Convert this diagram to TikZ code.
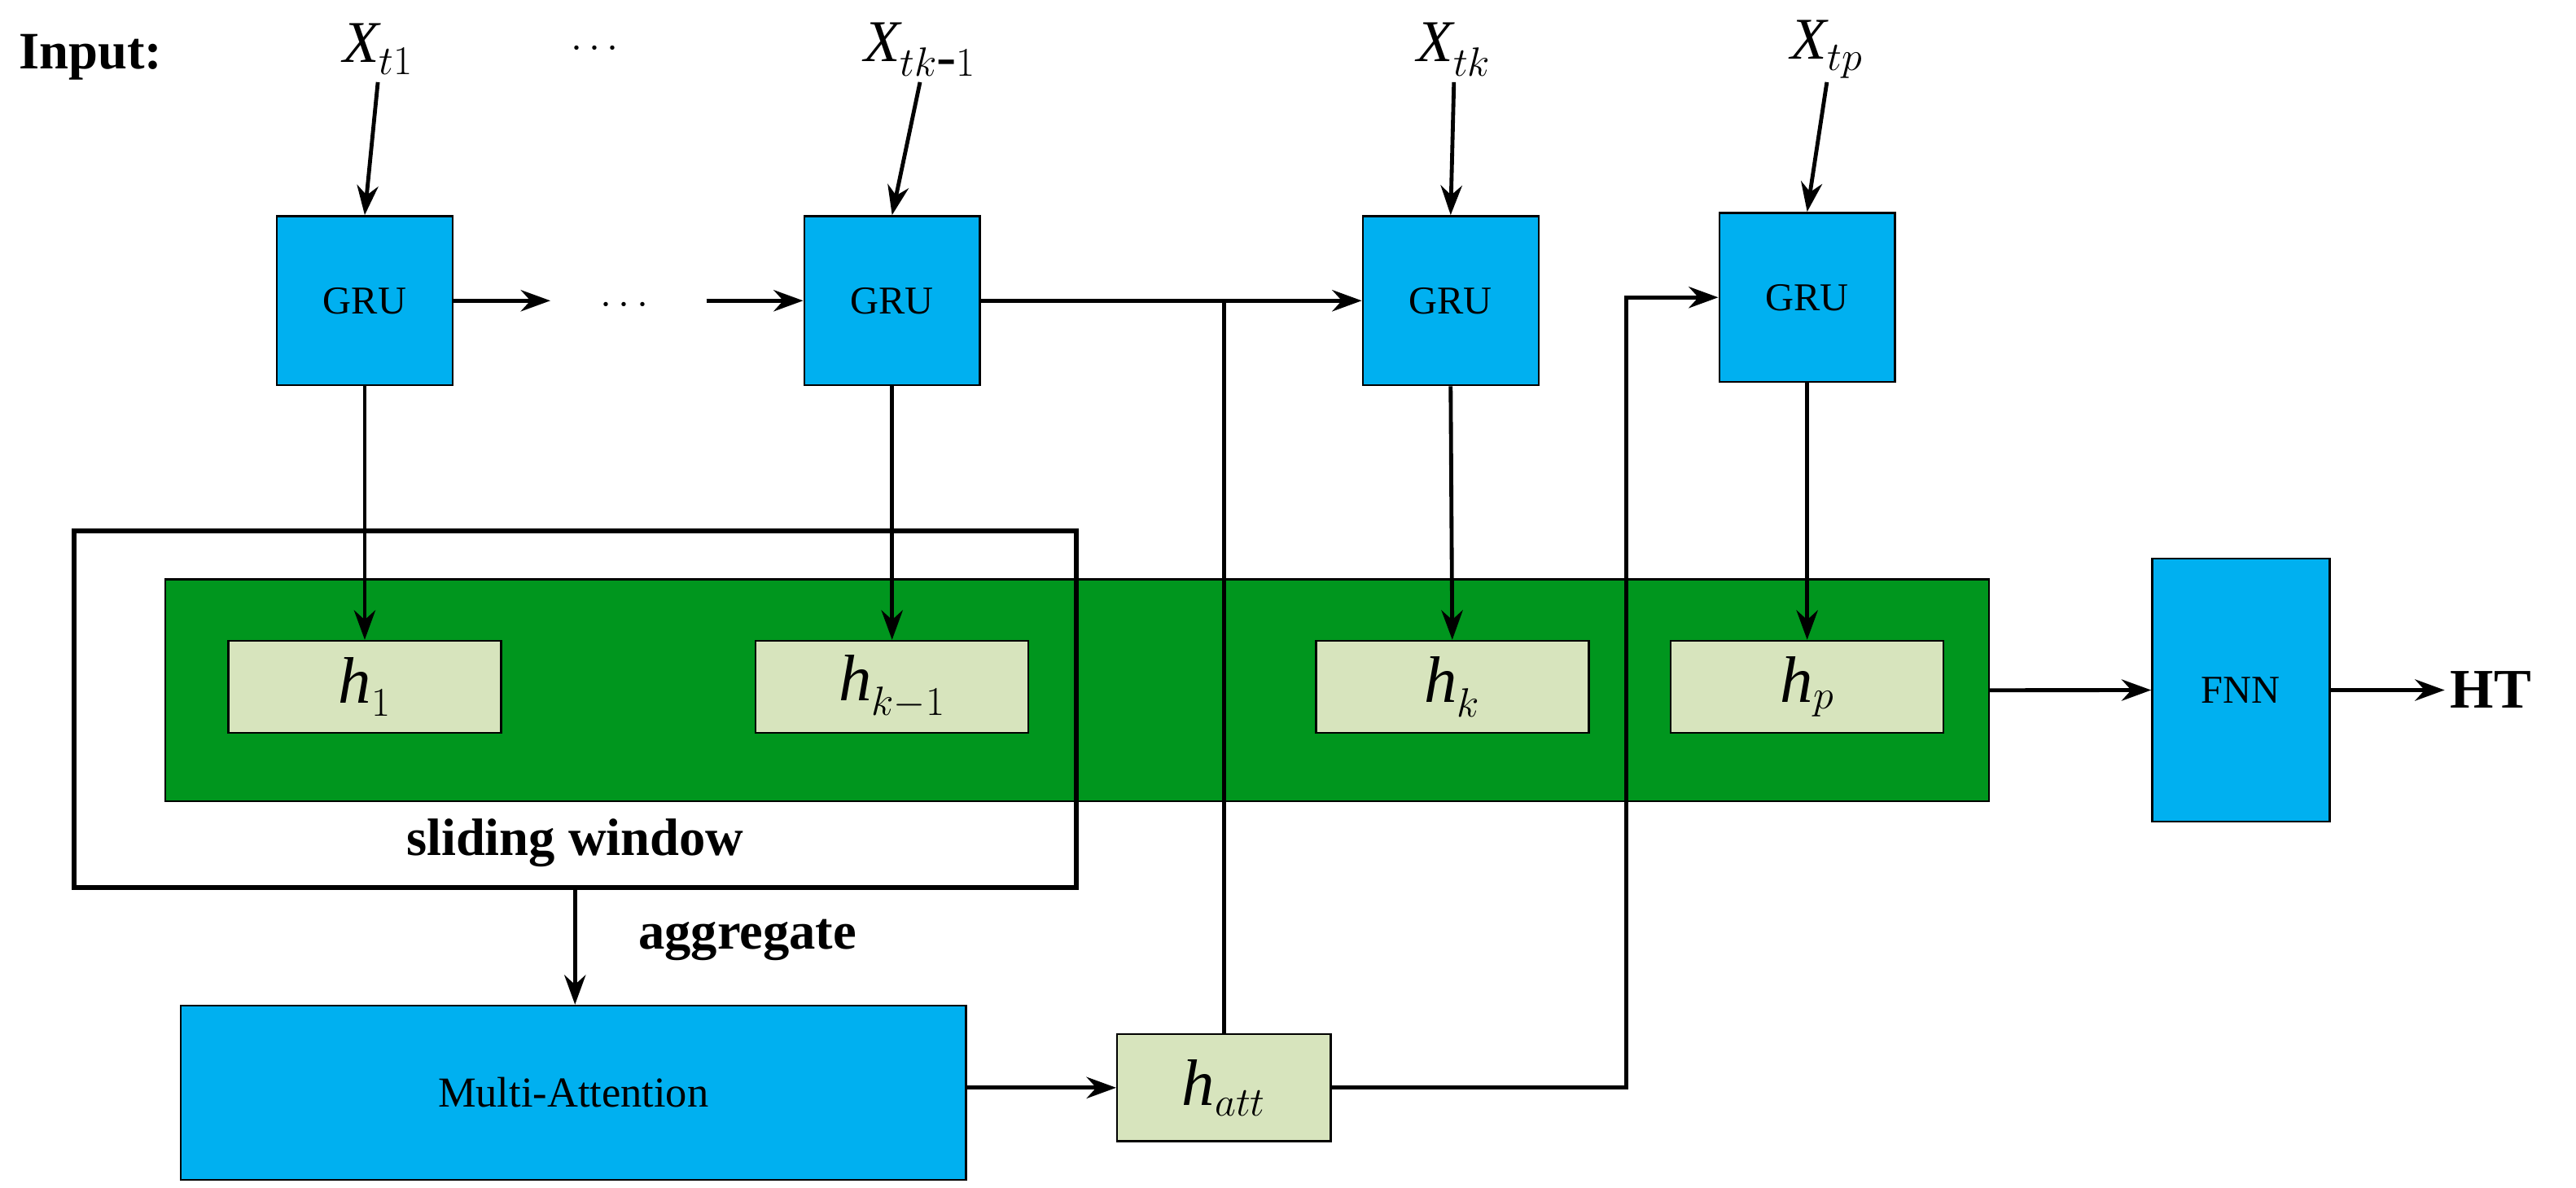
\documentclass[tikz,border=0pt]{standalone}
\usepackage{fontspec}
\setmainfont{Liberation Serif}
\usetikzlibrary{positioning, arrows.meta}
\definecolor{grucyan}{RGB}{0,176,240}
\definecolor{bandgreen}{RGB}{0,150,30}
\definecolor{hlight}{RGB}{215,228,189}

\tikzset{
  grubox/.style={draw, line width=1.2pt, fill=grucyan, minimum width=107pt, minimum height=103pt, font=\fontsize{24}{28}\selectfont},
  hbox/.style={draw, line width=1.2pt, fill=hlight, minimum width=166pt, minimum height=56pt, font=\fontsize{40}{44}\selectfont\itshape},
  arr/.style={line width=2.4pt, -{Stealth[length=18pt,width=13pt]}},
  ln/.style={line width=2.4pt},
  xin/.style={font=\fontsize{36}{40}\selectfont\itshape}
}

\begin{document}
\begin{tikzpicture}[x=1pt,y=-1pt]
\useasboundingbox (0,0) rectangle (1568,723);
% band and window
\node (band) [draw, line width=1.2pt, fill=bandgreen, minimum width=1110pt, minimum height=135pt, anchor=north west] at (100,352) {};
\draw[line width=3pt] (45,323) rectangle (655,540);
\node (win) [font=\fontsize{32}{36}\selectfont\bfseries] at (350,513) {sliding window};
\coordinate (winb) at (350,540);
% inputs
\node [font=\fontsize{32}{36}\selectfont\bfseries, anchor=west] at (8,35) {Input:};
\node (x1) [xin] at (230,30) {X$_{t1}$};
\node [font=\fontsize{36}{40}\selectfont\bfseries] at (362,30) {$\cdots$};
\node (x2) [xin] at (560,30) {X$_{tk\mbox{-}1}$};
\node (x3) [xin] at (885,30) {X$_{tk}$};
\node (x4) [xin] at (1112,30) {X$_{tp}$};
% GRUs
\node (g1) [grubox] at (222,183) {GRU};
\node (g2) [grubox] at (543,183) {GRU};
\node (g3) [grubox] at (883,183) {GRU};
\node (g4) [grubox] at (1100,181) {GRU};
% hidden states
\node (h1) [hbox] at (222,418) {h$_{1}$};
\node (h2) [hbox] at (543,418) {h$_{k-1}$};
\node (h3) [hbox] at (884,418) {h$_{k}$};
\node (h4) [hbox] at (1100,418) {h$_{p}$};
% bottom
\node (ma) [draw, line width=1.2pt, fill=grucyan, minimum width=478pt, minimum height=106pt, font=\fontsize{26}{30}\selectfont] at (349,665) {Multi-Attention};
\node (hatt) [hbox, minimum width=130pt, minimum height=65pt] at (745,662) {h$_{att}$};
\node (agg) [font=\fontsize{32}{36}\selectfont\bfseries] at (455,572) {aggregate};
\node (fnn) [grubox, minimum width=108pt, minimum height=160pt] at (1364,420) {FNN};
\node (ht) [font=\fontsize{34}{38}\selectfont\bfseries, anchor=west] at (1488,420) {HT};
\node (dots) [font=\fontsize{28}{32}\selectfont] at (380,186) {$\cdots$};
% connectors
\foreach \i in {1,...,4} {
  \draw[arr] (x\i.south |- 0,50) -- (g\i.north);
  \draw[arr] (g\i.south) -- (h\i.north);
}
\draw[arr] (g1.east) -- (335,183);
\draw[arr] (430,183) -- (g2.west);
\draw[arr] (g2.east) -- (g3.west);
\draw[ln] (hatt.north) -- (745,183);
\draw[arr] (hatt.east) -| (990,181) -- (g4.west);
\draw[arr] (ma.east |- hatt) -- (hatt.west);
\draw[arr] (winb) -- (ma.north -| winb);
\draw[arr] (band.east) -- (fnn.west);
\draw[arr] (fnn.east) -- (ht.west);
\end{tikzpicture}
\end{document}
